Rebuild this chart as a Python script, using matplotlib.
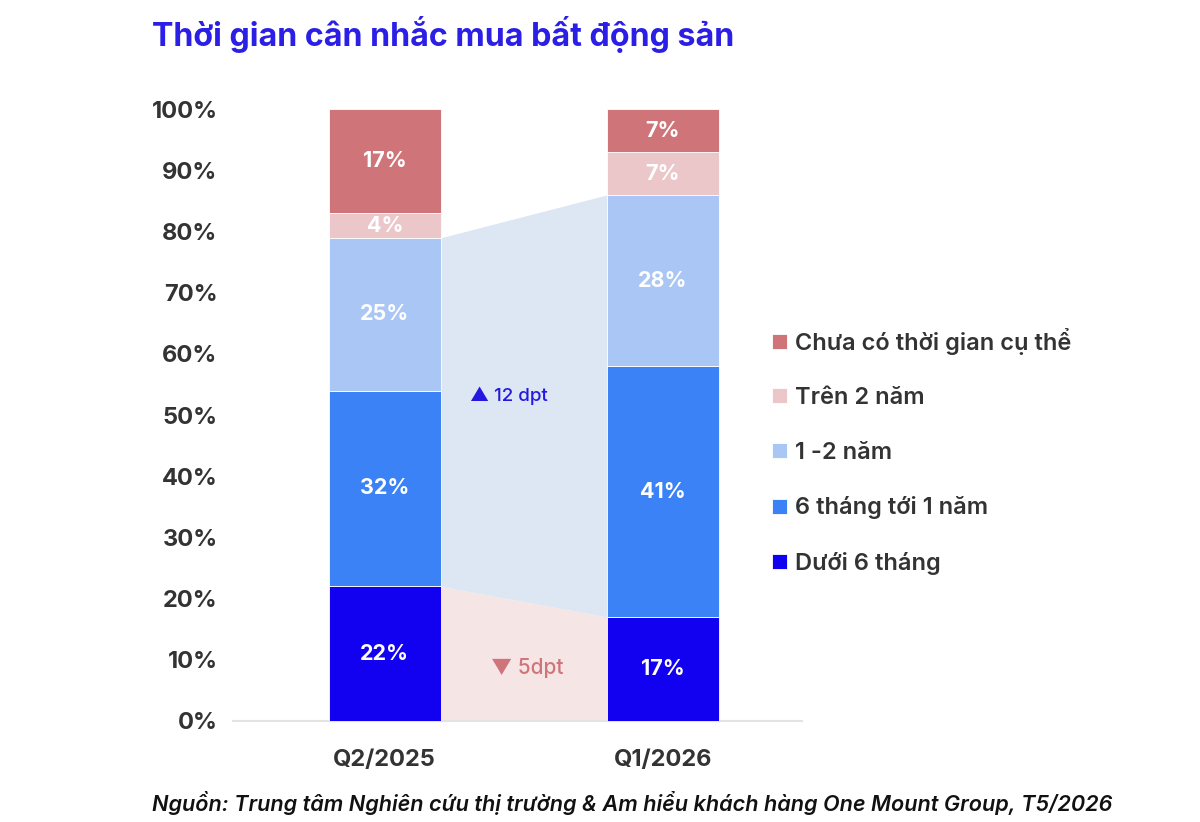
import numpy as np
import matplotlib
matplotlib.use("Agg")
import matplotlib.pyplot as plt

plt.rcParams["font.family"] = ["Inter", "Noto Sans", "DejaVu Sans"]

periods = ["Q2/2025", "Q1/2026"]
categories = [
    "Dưới 6 tháng",
    "6 tháng tới 1 năm",
    "1 -2 năm",
    "Trên 2 năm",
    "Chưa có thời gian cụ thể",
]
values = {
    "Dưới 6 tháng": [22, 17],
    "6 tháng tới 1 năm": [32, 41],
    "1 -2 năm": [25, 28],
    "Trên 2 năm": [4, 7],
    "Chưa có thời gian cụ thể": [17, 7],
}
colors = {
    "Dưới 6 tháng": "#1200F0",
    "6 tháng tới 1 năm": "#3A82F5",
    "1 -2 năm": "#A9C6F4",
    "Trên 2 năm": "#ECC7CA",
    "Chưa có thời gian cụ thể": "#CF7479",
}
up_label = "12 dpt"
down_label = "5dpt"

fig = plt.figure(figsize=(12, 8.22), dpi=100)
ax = fig.add_axes([0.194, 0.123, 0.474, 0.744])

x = np.arange(len(periods))
w = 0.403
bottom = np.zeros(len(periods))
for cat in categories:
    v = np.array(values[cat], dtype=float)
    ax.bar(x, v, w, bottom=bottom, color=colors[cat], edgecolor="white",
           linewidth=0.6, label=cat, zorder=3)
    for xi, vi, bi in zip(x, v, bottom):
        ax.text(xi, bi + vi / 2, f"{int(vi)}%", ha="center", va="center",
                color="white", fontsize=15.5, fontweight="bold", zorder=4)
    bottom = bottom + v

# connecting bands between the bars
xb = [x[0] + w / 2, x[1] - w / 2]
low = np.array(values["Dưới 6 tháng"], dtype=float)
mid_top = low + np.array(values["6 tháng tới 1 năm"]) + np.array(values["1 -2 năm"])
ax.fill_between(xb, [0, 0], low, color="#F5E5E5", lw=0, zorder=1)
ax.fill_between(xb, low, mid_top, color="#DCE7F3", lw=0, zorder=1)

ax.text(0.446, 53.1, "▲ " + up_label, ha="center", va="center",
        color="#2418E0", fontsize=13.5, fontweight="medium", zorder=4)
ax.text(0.513, 8.7, "▼ " + down_label, ha="center", va="center",
        color="#D0747B", fontsize=15, fontweight="medium", zorder=4)

ax.set_xlim(-0.547, 1.5)
ax.set_ylim(0, 100)
ax.set_yticks(np.arange(0, 101, 10))
ax.set_yticklabels([f"{t}%" for t in range(0, 101, 10)])
ax.set_xticks(x)
ax.set_xticklabels(periods)
for s in ["top", "right", "left"]:
    ax.spines[s].set_visible(False)
ax.spines["bottom"].set_color("#E3E3E3")
ax.spines["bottom"].set_linewidth(1.5)
ax.tick_params(axis="both", length=0, labelsize=17, colors="#333333")
ax.tick_params(axis="y", pad=11)
ax.tick_params(axis="x", pad=20)
for lbl in ax.get_xticklabels() + ax.get_yticklabels():
    lbl.set_fontweight("bold")

handles, labels = ax.get_legend_handles_labels()
leg = fig.legend(handles[::-1], labels[::-1], loc="center left",
                 bbox_to_anchor=(0.626, 0.451), frameon=False, fontsize=17,
                 handlelength=0.6, handleheight=0.6, handletextpad=0.35,
                 labelspacing=1.38)
for t in leg.get_texts():
    t.set_color("#333333")
    t.set_fontweight("semibold")

fig.text(0.127, 0.958, "Thời gian cân nhắc mua bất động sản", ha="left",
         va="center", fontsize=23.2, fontweight="bold", color="#2B1FE6")
fig.text(0.127, 0.023,
         "Nguồn: Trung tâm Nghiên cứu thị trường & Am hiểu khách hàng One Mount Group, T5/2026",
         ha="left", va="center", fontsize=15.6, fontstyle="italic",
         fontweight="semibold", color="#111111")

fig.savefig("out.png", dpi=100)
